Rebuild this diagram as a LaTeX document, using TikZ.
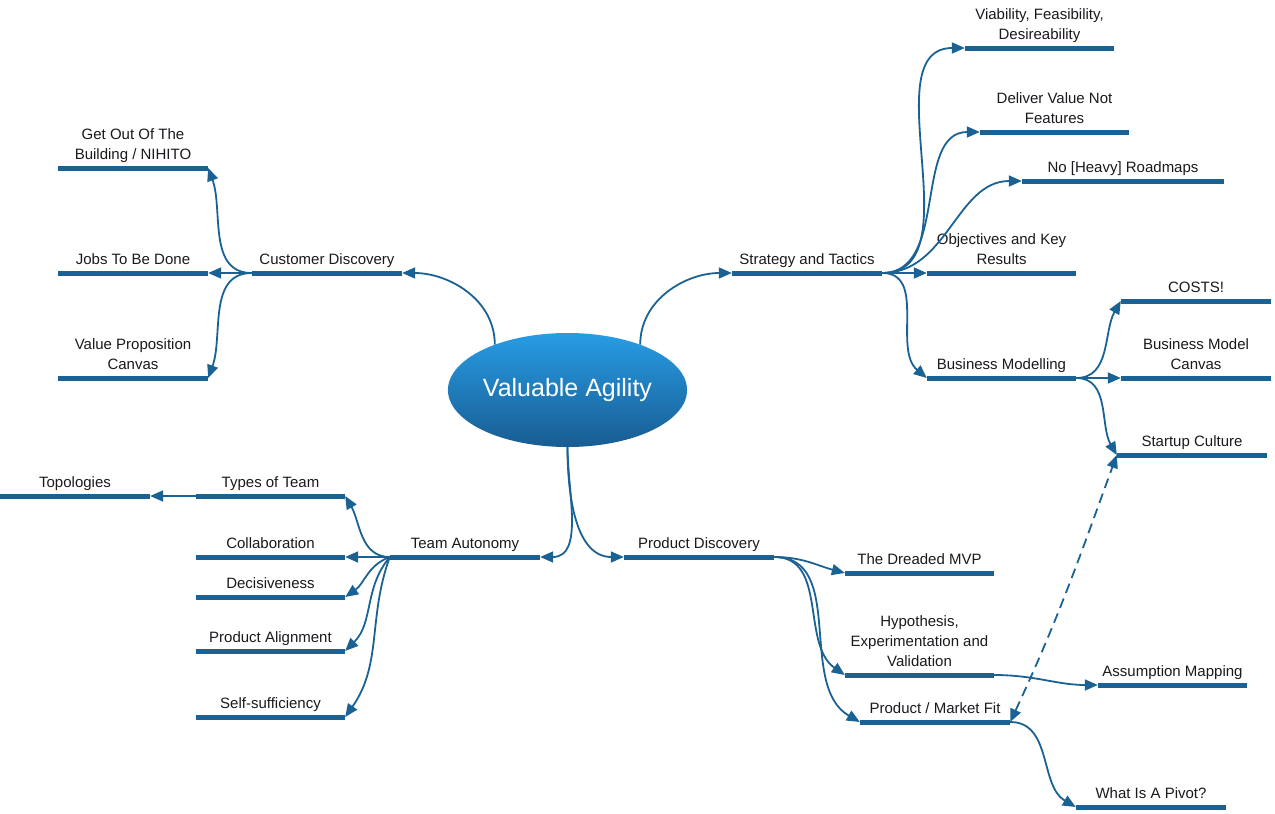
\documentclass[tikz,border=0pt]{standalone}
\usepackage{fontspec}
\setmainfont{Liberation Sans}
\usetikzlibrary{arrows.meta,shapes.geometric}
\definecolor{mc}{RGB}{27,98,148}
\definecolor{tc}{RGB}{25,25,30}
\definecolor{elltop}{RGB}{40,156,228}
\definecolor{ellbot}{RGB}{24,92,146}
\begin{document}
\begin{tikzpicture}[x=1pt,y=1pt,
  bar/.style={rectangle,fill=mc,inner sep=0pt,minimum height=5pt,minimum width=#1},
  bar/.default=150pt,
  lbl/.style={font=\fontsize{15}{20}\selectfont,text=tc,align=center,inner sep=0pt,text depth=0pt,anchor=south},
  con/.style={draw=mc,line width=1.8pt,-{Triangle[length=13pt,width=11pt]}},
  ctr/.style={ellipse,inner sep=0pt,minimum width=237pt,minimum height=114pt,top color=elltop,bottom color=ellbot,text=white,font=\fontsize{25}{30}\selectfont}
]
\useasboundingbox (0,0) rectangle (1275,-814);

\node[ctr] (va) at (567.5,-390) {Valuable Agility};

% Customer discovery branch
\node[bar] (cd) at (327,-273) {};
\node[bar] (gob) at (133,-168) {};
\node[bar] (jtbd) at (133,-273) {};
\node[bar] (vpc) at (133,-378) {};

% Strategy branch
\node[bar] (st) at (807,-273) {};
\node[bar=149pt] (vfd) at (1039.5,-48) {};
\node[bar=149pt] (dvnf) at (1054.5,-132) {};
\node[bar=202pt] (nhr) at (1123,-181) {};
\node[bar=149pt] (okr) at (1001.5,-273) {};
\node[bar=149pt] (bm) at (1001.5,-378) {};
\node[bar] (costs) at (1196,-301) {};
\node[bar] (bmc) at (1196,-378) {};
\node[bar] (sc) at (1192,-455) {};

% Team autonomy branch
\node[bar] (ta) at (465,-557) {};
\node[bar=149pt] (tot) at (270.5,-496) {};
\node[bar] (topo) at (75,-496) {};
\node[bar=149pt] (coll) at (270.5,-557) {};
\node[bar=149pt] (dec) at (270.5,-597) {};
\node[bar=149pt] (pa) at (270.5,-651) {};
\node[bar=149pt] (ss) at (270.5,-717) {};

% Product discovery branch
\node[bar] (pd) at (699,-557) {};
\node[bar=149pt] (mvp) at (919.5,-573) {};
\node[bar=149pt] (hev) at (919.5,-675) {};
\node[bar] (pmf) at (935,-722) {};
\node[bar=149pt] (am) at (1172.5,-685) {};
\node[bar] (pivot) at (1151,-807) {};

% texts
\node[lbl] (cd-t) at ([yshift=5.5pt]cd.north) {Customer Discovery};
\node[lbl] (gob-t) at ([yshift=5.5pt]gob.north) {Get Out Of The\\Building / NIHITO};
\node[lbl] (jtbd-t) at ([yshift=5.5pt]jtbd.north) {Jobs To Be Done};
\node[lbl] (vpc-t) at ([yshift=5.5pt]vpc.north) {Value Proposition\\Canvas};
\node[lbl] (st-t) at ([yshift=5.5pt]st.north) {Strategy and Tactics};
\node[lbl] (vfd-t) at ([yshift=5.5pt]vfd.north) {Viability, Feasibility,\\Desireability};
\node[lbl] (dvnf-t) at ([yshift=5.5pt]dvnf.north) {Deliver Value Not\\Features};
\node[lbl] (nhr-t) at ([yshift=5.5pt]nhr.north) {No [Heavy] Roadmaps};
\node[lbl] (okr-t) at ([yshift=5.5pt]okr.north) {Objectives and Key\\Results};
\node[lbl] (bm-t) at ([yshift=5.5pt]bm.north) {Business Modelling};
\node[lbl] (costs-t) at ([yshift=5.5pt]costs.north) {COSTS!};
\node[lbl] (bmc-t) at ([yshift=5.5pt]bmc.north) {Business Model\\Canvas};
\node[lbl] (sc-t) at ([yshift=5.5pt]sc.north) {Startup Culture};
\node[lbl] (ta-t) at ([yshift=5.5pt]ta.north) {Team Autonomy};
\node[lbl] (tot-t) at ([yshift=5.5pt]tot.north) {Types of Team};
\node[lbl] (topo-t) at ([yshift=5.5pt]topo.north) {Topologies};
\node[lbl] (coll-t) at ([yshift=5.5pt]coll.north) {Collaboration};
\node[lbl] (dec-t) at ([yshift=5.5pt]dec.north) {Decisiveness};
\node[lbl] (pa-t) at ([yshift=5.5pt]pa.north) {Product Alignment};
\node[lbl] (ss-t) at ([yshift=5.5pt]ss.north) {Self-sufficiency};
\node[lbl] (pd-t) at ([yshift=5.5pt]pd.north) {Product Discovery};
\node[lbl] (mvp-t) at ([yshift=5.5pt]mvp.north) {The Dreaded MVP};
\node[lbl] (hev-t) at ([yshift=5.5pt]hev.north) {Hypothesis,\\Experimentation and\\Validation};
\node[lbl] (pmf-t) at ([yshift=5.5pt]pmf.north) {Product / Market Fit};
\node[lbl] (am-t) at ([yshift=5.5pt]am.north) {Assumption Mapping};
\node[lbl] (pivot-t) at ([yshift=5.5pt]pivot.north) {What Is A Pivot?};

% connectors from centre
\draw[con] (va.148) to[out=90,in=0] (cd.east);
\draw[con] (va.32) to[out=90,in=180] (st.west);
\draw[con] (va.south) to[out=-90,in=0] (ta.east);
\draw[con] (va.south) to[out=-90,in=180] (pd.west);

% customer discovery
\draw[con] (cd.west) to[out=180,in=-70] (gob.east);
\draw[con] (cd.west) -- (jtbd.east);
\draw[con] (cd.west) to[out=180,in=70] (vpc.east);

% strategy
\draw[con] (st.east) to[out=0,in=180] (vfd.west);
\draw[con] (st.east) to[out=0,in=180] (dvnf.west);
\draw[con] (st.east) to[out=0,in=180] (nhr.west);
\draw[con] (st.east) -- (okr.west);
\draw[con] (st.east) to[out=0,in=140] (bm.west);
\draw[con] (bm.east) to[out=0,in=-120] (costs.west);
\draw[con] (bm.east) -- (bmc.west);
\draw[con] (bm.east) to[out=0,in=120] (sc.west);

% team autonomy
\draw[con] (ta.west) to[out=180,in=-60] (tot.east);
\draw[con] (ta.west) -- (coll.east);
\draw[con] (ta.west) to[out=200,in=35] (dec.east);
\draw[con] (ta.west) to[out=230,in=45] (pa.east);
\draw[con] (ta.west) to[out=250,in=55] (ss.east);
\draw[con] (tot.west) -- (topo.east);

% product discovery
\draw[con] (pd.east) to[out=0,in=165] (mvp.west);
\draw[con] (pd.east) to[out=0,in=145] (hev.west);
\draw[con] (pd.east) to[out=0,in=150] (pmf.west);
\draw[con] (hev.east) to[out=0,in=180] (am.west);
\draw[con] (pmf.east) to[out=0,in=150] (pivot.west);
\draw[con,dash pattern=on 10pt off 6pt,{Triangle[length=13pt,width=11pt]}-{Triangle[length=13pt,width=11pt]}] (pmf.east) to[out=65,in=-110] (sc.west);
\end{tikzpicture}
\end{document}
